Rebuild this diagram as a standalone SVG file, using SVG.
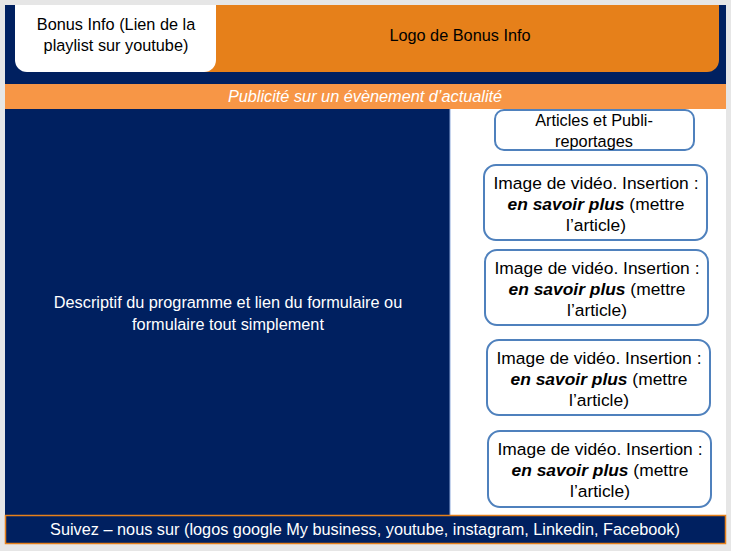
<svg xmlns="http://www.w3.org/2000/svg" width="731" height="551" viewBox="0 0 731 551">
<style>
text{font-family:"Liberation Sans",Arial,sans-serif;font-size:16.3px;text-anchor:middle;}
.dk{fill:#000000;}
.wt{fill:#ffffff;}
.card{fill:#ffffff;stroke:#4F81BD;stroke-width:2;}
.ct{font-size:17.4px;}
</style>
<rect x="0" y="0" width="731" height="551" fill="#e6e6e6"/>
<rect x="5" y="5" width="721" height="539" fill="#ffffff"/>
<g id="header">
<rect x="5" y="5" width="721" height="79" fill="#002060"/>
</g>
<g id="logo">
<path d="M190 5 H719 V60 a12 12 0 0 1 -12 12 H190 Z" fill="#E6801A"/>
<text class="dk" x="460" y="41" font-size="16px">Logo de Bonus Info</text>
</g>
<g id="bonus">
<path d="M15 5 H216 V60 a12 12 0 0 1 -12 12 H27 a12 12 0 0 1 -12 -12 Z" fill="#ffffff"/>
<text class="dk" x="116" y="30">Bonus Info (Lien de la</text>
<text class="dk" x="116" y="51">playlist sur youtube)</text>
</g>
<g id="pub">
<rect x="5" y="84" width="721" height="25" fill="#F79646"/>
<text class="wt" x="365" y="102" font-style="italic">Publicité sur un évènement d’actualité</text>
</g>
<g id="programme">
<rect x="5" y="109" width="445" height="406" fill="#002060"/>
<line x1="450" y1="109" x2="450" y2="515" stroke="#8EA9DB" stroke-width="1"/>
<text class="wt" x="228" y="308" font-size="16.8px">Descriptif du programme et lien du formulaire ou</text>
<text class="wt" x="228" y="330" font-size="16.8px">formulaire tout simplement</text>
</g>
<g id="articles">
<rect class="card" x="495" y="110" width="199" height="40" rx="9"/>
<text class="dk" x="594" y="126">Articles et Publi-</text>
<text class="dk" x="594" y="147">reportages</text>
</g>
<g id="video1">
<rect class="card" x="484" y="165" width="223" height="75" rx="12"/>
<text class="dk ct" x="596" y="189">Image de vidéo. Insertion :</text>
<text class="dk ct" x="596" y="210"><tspan font-weight="bold" font-style="italic">en savoir plus</tspan> (mettre</text>
<text class="dk ct" x="596" y="231">l’article)</text>
</g>
<g id="video2">
<rect class="card" x="485" y="250" width="223" height="75" rx="12"/>
<text class="dk ct" x="597" y="274">Image de vidéo. Insertion :</text>
<text class="dk ct" x="597" y="295"><tspan font-weight="bold" font-style="italic">en savoir plus</tspan> (mettre</text>
<text class="dk ct" x="597" y="316">l’article)</text>
</g>
<g id="video3">
<rect class="card" x="487" y="340" width="223" height="75" rx="12"/>
<text class="dk ct" x="599" y="364">Image de vidéo. Insertion :</text>
<text class="dk ct" x="599" y="385"><tspan font-weight="bold" font-style="italic">en savoir plus</tspan> (mettre</text>
<text class="dk ct" x="599" y="406">l’article)</text>
</g>
<g id="video4">
<rect class="card" x="488" y="431" width="223" height="76" rx="12"/>
<text class="dk ct" x="600" y="455">Image de vidéo. Insertion :</text>
<text class="dk ct" x="600" y="476"><tspan font-weight="bold" font-style="italic">en savoir plus</tspan> (mettre</text>
<text class="dk ct" x="600" y="497">l’article)</text>
</g>
<g id="footer">
<rect x="5.5" y="515.5" width="720" height="28" fill="#002060" stroke="#E6801A" stroke-width="1.5"/>
<text class="wt" x="365" y="535" font-size="16.2px">Suivez – nous sur (logos google My business, youtube, instagram, Linkedin, Facebook)</text>
</g>
<g id="connectors"></g>
</svg>
